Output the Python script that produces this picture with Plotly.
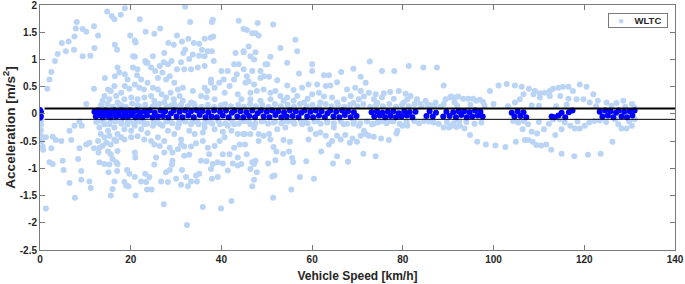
import plotly.graph_objects as go

# ---------------- data (speed km/h, acceleration m/s^2) ----------------
# light-blue WLTC points, grouped by region of the chart
wltc_upper_low_speed = [
    (1.6,0.46),(2.1,0.63),(2.5,0.77),(3.3,0.97),(3.9,1.10),(4.8,1.30),(5.7,1.15),(6.3,1.33),(7.5,1.18),(7.6,1.42),
    (7.9,1.57),(8.1,1.69),(9.4,1.56),(10.2,1.51),(9.4,1.06),(11.1,1.07),(11.9,1.61),(12.0,1.21),(12.8,1.44),(14.8,1.88),
    (15.8,1.80),(16.4,1.74),(17.8,1.82),(18.7,1.94),(16.5,1.27),(17.0,1.18),(19.9,1.44),(20.9,1.35),(21.1,1.31),(22.0,1.74),
    (23.3,1.51),(25.2,1.47),(26.5,1.57),(32.0,1.97),(33.1,1.69),(38.1,1.73),(37.9,1.69),(43.8,1.71),(44.9,1.56),(30.2,1.44),
    (28.3,1.30),(29.5,1.27),(31.3,1.33),(32.7,1.38),(33.9,1.30),(35.1,1.29),(36.3,1.38),(37.6,1.40),(38.2,1.42),(32.0,1.18),
    (31.6,1.12),(33.7,1.09),(35.7,1.18),(37.0,1.15),(37.9,1.15),(35.1,1.07),(36.3,1.06),(32.9,1.01),(44.9,1.15),(43.1,1.12),
    (43.8,0.91),(42.8,0.91),(43.4,0.73),(27.4,1.12),(24.9,1.06),(23.4,0.94),(20.5,1.06),(20.9,1.05),(27.3,0.95),(28.2,0.91),
    (29.0,0.97),(31.1,0.95),(30.2,0.82),(31.8,0.82),(33.3,0.82),(34.8,0.85),(36.3,0.88),(38.3,0.97),(40.0,0.79),(41.4,0.79),
    (40.5,0.63),(37.7,0.63),(39.5,0.57),(38.5,0.48),(36.9,0.42),(36.7,0.30),(38.5,0.27),(40.7,0.39),(41.8,0.51),(42.8,0.63),
    (43.6,0.36),(44.4,0.27),(14.3,0.66),(11.9,0.46),(10.2,0.18),
]
wltc_upper_cluster = [
    (17.1,0.85),(17.5,0.76),(16.5,0.69),(18.7,0.73),(19.3,0.63),(20.5,0.85),(21.5,0.82),(21.4,0.71),(22.3,0.63),(23.2,0.97),
    (23.7,0.94),(24.5,0.85),(25.4,0.79),(26.0,0.66),(26.4,0.88),(27.0,0.76),(27.8,0.63),(28.6,0.69),(29.6,0.57),(16.4,0.51),
    (15.6,0.42),(15.0,0.45),(14.2,0.33),(13.8,0.24),(15.3,0.27),(16.8,0.33),(17.9,0.39),(18.7,0.51),(19.7,0.46),(20.9,0.54),
    (21.9,0.48),(22.9,0.45),(23.7,0.57),(24.9,0.48),(26.0,0.45),(26.8,0.36),(27.8,0.30),(28.8,0.39),(29.5,0.27),(30.4,0.45),
    (31.5,0.48),(33.7,0.42),(30.8,0.33),(17.1,0.21),(18.6,0.27),(20.1,0.30),(21.5,0.27),(23.0,0.30),(24.5,0.33),(25.2,0.24),
    (27.4,0.21),(29.6,0.18),(31.5,0.24),(33.3,0.21),(35.5,0.33),(36.3,0.48),(37.7,0.57),(13.4,0.16),(17.9,0.16),(21.5,0.16),
    (25.2,0.16),(29.0,0.16),(34.1,0.16),(39.9,0.16),
]
wltc_upper_mid_speed = [
    (45.6,1.54),(46.8,1.48),(47.5,1.48),(48.2,1.44),(48.0,1.67),(51.4,1.64),(46.0,1.24),(46.4,1.06),(47.2,1.00),(47.5,1.13),
    (44.9,1.13),(53.0,1.21),(56.3,1.36),(56.7,1.15),(54.5,0.94),(50.1,0.91),(50.8,1.05),(46.8,0.79),(48.6,0.79),(49.7,0.91),
    (57.1,0.74),(60.0,0.91),(60.0,0.79),(62.6,0.71),(63.7,0.71),(66.4,0.77),(69.1,0.83),(70.7,0.68),(72.7,0.96),(75.4,0.79),
    (78.1,0.79),(81.3,0.88),(84.5,0.85),(87.5,0.85),(89.0,0.52),(46.0,0.60),(47.2,0.54),(48.6,0.66),(49.3,0.69),(50.5,0.68),
    (52.3,0.62),(54.5,0.52),(55.9,0.44),(57.8,0.48),(59.2,0.54),(61.1,0.54),(63.0,0.51),(64.0,0.52),(65.5,0.58),(67.7,0.45),
    (69.5,0.48),(70.7,0.42),(71.8,0.57),(72.5,0.39),(74.0,0.36),(75.8,0.38),(77.2,0.40),(79.1,0.42),(80.6,0.37),(81.7,0.33),
    (83.1,0.27),(85.0,0.24),(87.2,0.21),(89.4,0.27),(90.6,0.32),(46.4,0.39),(47.8,0.42),(49.3,0.45),(50.8,0.39),(51.9,0.42),
    (53.0,0.33),(54.5,0.30),(56.7,0.33),(59.0,0.28),(60.0,0.36),(61.5,0.39),(62.6,0.32),(64.4,0.30),(67.0,0.27),(68.5,0.33),
    (70.3,0.27),(71.4,0.32),(73.6,0.27),(75.4,0.30),(78.0,0.28),(81.0,0.27),(46.4,0.27),(48.6,0.24),(50.8,0.27),(53.7,0.24),
    (55.9,0.24),(58.2,0.21),(61.8,0.21),(65.5,0.21),(69.1,0.20),(74.4,0.20),(80.2,0.21),(83.9,0.18),(86.1,0.16),(89.0,0.18),
    (45.3,0.57),(45.6,0.69),(44.9,0.82),
]
wltc_upper_high_speed = [
    (90.4,0.30),(91.4,0.30),(92.2,0.32),(93.3,0.28),(94.4,0.28),(95.5,0.28),(96.2,0.24),(97.0,0.26),(97.7,0.22),(99.2,0.42),
    (101.1,0.52),(102.9,0.55),(104.7,0.52),(106.2,0.50),(107.8,0.46),(109.1,0.42),(110.2,0.38),(111.3,0.39),(112.4,0.42),(113.1,0.46),
    (114.3,0.48),(115.3,0.50),(116.5,0.50),(117.5,0.42),(119.0,0.54),(120.5,0.50),(122.0,0.36),(106.6,0.36),(108.8,0.36),(110.2,0.30),
    (112.4,0.33),(114.7,0.33),(116.5,0.28),(118.3,0.27),(119.8,0.27),(121.2,0.21),(123.0,0.24),(124.9,0.21),(127.1,0.20),(128.6,0.24),
    (130.5,0.18),(104.7,0.21),(105.8,0.27),(91.4,0.21),(98.0,0.15),(100.0,0.18),(110.0,0.15),(126.0,0.15),(129.0,0.13),(131.0,0.12),
]
# light-blue fringe just above the upper band line
wltc_upper_fringe = [
    (13.6,0.14),(14.9,0.18),(16.1,0.13),(17.5,0.17),(18.9,0.13),(20.3,0.19),(21.8,0.14),(23.2,0.17),(24.8,0.13),(26.3,0.18),
    (27.9,0.14),(29.9,0.13),(31.1,0.17),(32.6,0.14),(33.9,0.19),(35.6,0.13),(37.0,0.17),(38.4,0.13),(40.8,0.18),(42.1,0.14),
    (43.7,0.17),(45.0,0.13),(46.3,0.18),(47.6,0.14),(49.0,0.17),(50.4,0.13),(51.8,0.18),(53.1,0.14),(54.6,0.17),(56.0,0.13),
    (57.3,0.18),(58.8,0.14),(60.1,0.17),(61.6,0.13),(63.0,0.18),(64.3,0.14),(65.7,0.17),(67.1,0.13),(68.4,0.17),(70.0,0.14),
    (71.3,0.18),(72.8,0.13),(74.1,0.17),(75.6,0.14),(77.0,0.18),(78.5,0.13),(79.8,0.17),(81.3,0.14),(82.6,0.18),(84.1,0.13),
    (85.4,0.17),(86.9,0.14),(88.3,0.13),(92.0,0.15),(94.9,0.17),(103.2,0.14),(108.4,0.16),(113.8,0.14),(116.1,0.17),(122.6,0.14),
]
wltc_lower_low_speed = [
    (0.2,-0.12),(0.2,-0.20),(0.2,-0.30),(0.2,-0.40),(0.4,-0.50),(0.6,-0.60),(0.7,-0.66),
    (1.3,-0.43),(2.8,-0.42),(3.5,-0.48),(4.7,-0.50),(2.5,-0.63),(2.1,-0.89),(2.8,-0.92),(5.0,-0.86),(5.2,-1.03),(6.5,-1.27),
    (1.3,-1.74),(6.9,-0.48),(6.5,-0.31),(7.6,-0.22),(8.7,-0.14),(9.2,-0.22),(8.7,-0.63),(8.4,-0.83),(9.1,-1.05),(9.1,-1.21),
    (7.7,-1.54),(10.9,-1.24),(11.2,-1.36),(10.2,-0.56),(10.9,-0.53),(11.9,-0.63),(12.9,-0.71),(13.1,-0.89),(14.2,-0.92),(15.1,-1.07),
    (15.6,-1.50),(16.0,-1.38),(16.4,-1.24),(17.0,-1.05),(15.3,-0.93),(16.0,-0.83),(16.8,-0.89),(17.1,-0.92),(15.0,-0.69),(15.6,-0.74),
    (17.1,-0.68),(18.6,-1.25),(19.0,-1.32),(19.5,-1.33),(19.2,-1.03),(19.7,-1.10),(20.9,-1.16),(21.1,-1.50),(21.0,-0.80),(20.9,-0.71),
    (22.3,-1.24),(23.2,-1.10),(23.4,-1.25),(23.6,-1.39),(24.6,-1.39),(24.1,-1.16),(25.2,-0.93),(25.6,-0.80),(26.7,-1.24),(27.3,-1.66),
    (27.8,-1.07),(28.2,-1.25),(28.6,-1.03),(29.1,-0.93),(29.2,-0.86),(30.0,-1.19),(31.1,-1.30),(31.3,-1.03),(32.2,-1.16),(32.6,-1.33),
    (33.3,-1.24),(32.4,-2.04),(31.8,-0.77),(32.9,-0.75),(34.4,-1.13),(35.1,-1.10),(34.6,-1.24),(35.9,-1.71),(37.9,-1.19),(39.2,-1.16),
    (39.9,-1.74),(42.2,-1.60),(37.7,-1.01),(38.1,-0.92),(39.2,-0.89),(40.3,-0.91),(41.4,-1.04),(42.5,-0.91),(43.6,-0.95),(44.4,-0.92),
    (43.6,-0.80),(41.8,-0.74),(40.3,-0.74),(42.8,-0.62),(44.0,-0.56),(44.8,-0.37),(43.6,-0.37),(42.2,-0.31),(40.3,-0.33),(41.4,-0.22),
    (42.8,-0.19),(39.7,-0.19),(37.7,-0.16),(36.3,-0.18),(34.8,-0.16),(33.3,-0.19),(31.8,-0.13),(30.4,-0.25),(35.9,-0.34),(35.9,-0.50),
    (37.0,-0.62),(37.3,-0.74),(38.5,-0.59),(35.5,-0.86),(36.7,-0.87),(33.3,-0.60),(34.4,-0.54),(31.8,-0.60),(31.1,-0.56),(30.4,-0.65),
    (29.2,-0.71),(28.6,-0.62),(27.4,-0.71),(26.4,-0.59),(25.2,-0.56),(24.5,-0.50),(23.0,-0.47),(21.5,-0.41),(20.1,-0.43),(18.6,-0.47),
    (17.9,-0.43),(16.8,-0.50),(15.6,-0.56),(14.6,-0.53),(13.8,-0.59),(13.1,-0.62),
]
wltc_lower_cluster = [
    (12.8,-0.13),(13.1,-0.25),(13.4,-0.37),(14.2,-0.19),(15.0,-0.31),(15.6,-0.13),(16.4,-0.25),(17.1,-0.37),(17.9,-0.16),(18.6,-0.28),
    (19.3,-0.19),(20.1,-0.31),(20.9,-0.22),(21.5,-0.13),(22.3,-0.28),(23.0,-0.19),(23.7,-0.35),(24.9,-0.22),(26.0,-0.16),(27.0,-0.22),
    (28.2,-0.31),(29.6,-0.37),(30.7,-0.13),(12.8,-0.50),(14.2,-0.43),(15.3,-0.40),(16.4,-0.47),(13.8,-0.10),(16.8,-0.10),(19.7,-0.10),
    (22.7,-0.10),(25.6,-0.10),(28.6,-0.13),(34.1,-0.10),(36.7,-0.10),(39.2,-0.10),(42.2,-0.10),(44.4,-0.13),(36.3,-0.25),(38.5,-0.28),
    (40.7,-0.43),(39.6,-0.50),(32.9,-0.31),(34.1,-0.37),(31.1,-0.47),(27.4,-0.50),(26.0,-0.43),
]
wltc_lower_mid_speed = [
    (45.2,-0.13),(46.4,-0.19),(47.2,-0.25),(45.2,-0.37),(46.4,-0.37),(48.2,-0.37),(49.3,-0.40),(50.5,-0.37),(48.2,-0.50),(50.8,-0.47),
    (45.2,-0.56),(45.6,-0.74),(46.8,-0.89),(47.5,-0.86),(46.4,-1.01),(47.2,-0.92),(47.8,-1.07),(47.2,-1.21),(46.8,-1.33),(51.2,-1.15),
    (51.7,-1.13),(51.4,-1.54),(50.3,-0.91),(51.9,-0.85),(51.5,-0.61),(52.1,-0.69),(53.6,-0.73),(54.9,-0.69),(55.6,-0.81),(55.8,-0.89),
    (57.3,-1.16),(55.4,-1.39),(58.7,-0.87),(60.4,-1.19),(62.0,-0.69),(64.6,-0.91),(65.5,-0.78),(67.9,-0.88),(71.3,-0.73),(74.0,-0.78),
    (53.7,-0.48),(55.1,-0.51),(52.3,-0.28),(54.1,-0.25),(55.9,-0.16),(57.8,-0.19),(59.6,-0.28),(59.2,-0.47),(60.8,-0.37),(61.8,-0.34),
    (63.0,-0.40),(63.7,-0.56),(64.4,-0.50),(65.5,-0.40),(66.3,-0.47),(67.3,-0.39),(68.3,-0.53),(68.9,-0.45),(69.9,-0.51),(70.7,-0.40),
    (71.8,-0.37),(72.5,-0.40),(73.6,-0.42),(75.2,-0.45),(76.9,-0.48),(78.6,-0.36),(78.8,-0.31),(79.9,-0.22),(81.0,-0.22),(64.8,-0.25),
    (67.0,-0.19),(69.1,-0.18),(70.3,-0.22),(71.4,-0.31),(73.2,-0.19),(74.4,-0.16),(75.8,-0.13),(77.2,-0.13),(82.5,-0.13),(84.7,-0.13),
    (86.8,-0.16),(89.0,-0.25),(90.2,-0.25),(49.3,-0.13),(51.5,-0.16),(53.7,-0.13),(58.2,-0.13),(61.1,-0.13),(63.3,-0.16),
]
wltc_lower_high_speed = [
    (90.7,-0.22),(91.8,-0.24),(92.6,-0.22),(93.6,-0.27),(92.4,-0.13),(94.8,-0.39),(96.4,-0.51),(98.3,-0.56),(100.4,-0.58),(102.6,-0.61),
    (104.9,-0.51),(106.9,-0.48),(107.6,-0.48),(108.6,-0.51),(109.4,-0.57),(110.5,-0.58),(111.6,-0.56),(112.7,-0.66),(115.0,-0.73),(117.8,-0.78),
    (120.8,-0.75),(123.6,-0.73),(126.2,-0.51),(104.3,-0.13),(105.4,-0.16),(106.6,-0.13),(107.6,-0.19),(106.4,-0.28),(108.4,-0.33),(109.6,-0.36),
    (111.1,-0.28),(112.2,-0.18),(113.6,-0.39),(115.0,-0.28),(113.1,-0.10),(114.6,-0.10),(115.7,-0.16),(116.9,-0.22),(117.9,-0.27),(119.0,-0.27),
    (120.1,-0.22),(121.1,-0.16),(122.2,-0.13),(123.4,-0.12),(126.8,-0.10),(127.5,-0.19),(128.2,-0.27),(129.3,-0.27),(130.5,-0.22),(131.1,-0.10),
]
# light-blue fringe just below the lower band line
wltc_lower_fringe = [
    (12.4,-0.15),(14.0,-0.14),(15.3,-0.19),(16.6,-0.14),(18.0,-0.18),(19.4,-0.14),(20.7,-0.17),(22.1,-0.14),(23.6,-0.18),(25.0,-0.14),
    (26.5,-0.19),(27.8,-0.14),(29.2,-0.17),(30.6,-0.19),(32.1,-0.14),(33.6,-0.15),(35.0,-0.19),(36.5,-0.14),(38.0,-0.18),(39.4,-0.14),
    (40.9,-0.17),(42.4,-0.14),(43.8,-0.18),(46.0,-0.14),(47.5,-0.17),(48.9,-0.14),(50.3,-0.18),(51.8,-0.14),(53.2,-0.17),(54.7,-0.14),
    (56.1,-0.18),(57.6,-0.14),(59.0,-0.17),(60.5,-0.14),(61.9,-0.18),(63.4,-0.14),(64.8,-0.17),(66.3,-0.14),(67.7,-0.18),(69.2,-0.14),
    (70.6,-0.17),(72.1,-0.14),(73.5,-0.18),(75.0,-0.14),(76.4,-0.17),(77.9,-0.14),(79.3,-0.18),(80.8,-0.14),(83.6,-0.17),(85.8,-0.14),
    (87.9,-0.18),(89.7,-0.15),(91.2,-0.17),(94.0,-0.15),(95.8,-0.18),(97.3,-0.16),(110.0,-0.15),(118.5,-0.14),(124.8,-0.15),(129.9,-0.14),
]

# dark-blue points inside the +-0.1 m/s^2 band
band_idle_low = [
    (0,0.07),(0,0.02),(0,-0.03),(0,-0.07),(0.2,0.04),(0.2,-0.05),
    (12.0,0.04),(12.3,-0.05),(12.7,0.06),(13.0,-0.02),(13.4,0.05),(13.8,-0.06),(14.1,0.02),(14.5,0.06),(14.9,-0.04),(15.3,0.05),
    (15.6,-0.06),(16.0,0.01),(16.4,0.06),(16.8,-0.05),(17.2,0.04),(17.5,-0.03),(17.9,0.06),(18.3,-0.06),(18.7,0.02),(19.1,0.05),
    (19.4,-0.05),(19.8,0.06),(20.2,-0.02),(20.6,0.04),(21.0,-0.06),(21.3,0.06),(21.7,-0.04),(22.1,0.03),
]
band_medium = [
    (22.6,-0.06),(23.1,0.05),(23.6,-0.03),(24.2,0.06),(24.8,-0.06),(25.3,0.02),(26.0,-0.05),(26.6,0.06),(27.1,-0.04),(27.6,0.05),
    (28.3,-0.06),(28.9,0.01),(29.5,0.06),(30.1,-0.05),(30.8,0.04),(31.4,-0.06),(32.0,0.06),(32.7,-0.03),(33.3,0.05),(33.9,-0.06),
    (34.6,0.06),(35.2,-0.02),(35.8,0.05),(36.5,-0.06),(37.1,0.03),(37.8,-0.05),(38.4,0.06),(39.0,-0.06),(39.7,0.04),(40.3,-0.03),
    (41.0,0.06),(41.6,-0.06),(42.3,0.02),(42.9,0.06),(43.5,-0.05),(44.2,0.05),(44.8,-0.06),(45.5,0.03),(46.1,-0.04),(46.8,0.06),
    (47.4,-0.06),(48.0,0.01),(48.7,0.06),(49.3,-0.05),(50.0,0.04),(50.6,-0.06),(51.2,0.06),(51.9,-0.02),(52.5,0.05),(53.2,-0.06),
    (53.8,0.03),(54.4,-0.05),(55.1,0.06),(55.7,-0.04),(56.4,0.05),(57.0,-0.06),(57.6,0.02),(58.3,0.06),(58.9,-0.05),(59.6,0.04),
    (60.2,-0.06),(60.8,0.06),(61.5,-0.03),(62.1,0.05),(62.8,-0.06),(63.4,0.01),(64.0,0.06),(64.7,-0.05),(65.3,0.04),(66.0,-0.06),
    (66.6,0.06),(67.2,-0.02),(67.9,0.05),(68.5,-0.06),(69.2,0.03),(69.8,-0.04),
]
band_high = [
    (73.1,0.03),(73.7,-0.05),(74.3,0.05),(74.9,-0.03),(75.5,0.02),(76.1,-0.06),(76.7,0.04),(77.3,-0.04),(77.9,0.05),(78.5,-0.06),
    (79.1,0.01),(79.7,-0.05),(80.3,0.05),(80.9,-0.03),(81.5,0.03),(82.1,-0.06),(82.8,0.04),(85.2,-0.04),(85.9,0.05),(86.6,-0.05),
    (87.3,0.02),(88.9,-0.05),(89.6,0.04),(90.3,-0.04),(91.1,0.03),(91.7,-0.06),(92.3,0.05),(92.9,-0.02),(93.5,0.05),(94.1,-0.06),
    (94.7,0.03),(95.3,-0.05),(95.9,0.06),(96.5,-0.03),(97.1,0.04),(97.6,-0.05),
]
band_extra_high = [
    (104.0,0.02),(104.6,-0.05),(105.3,0.05),(105.9,-0.04),(106.6,0.03),(107.2,-0.06),(112.8,-0.05),(113.5,-0.06),(114.3,-0.03),
    (115.0,0.02),(115.8,-0.06),(116.6,0.03),(117.4,0.06),(123.4,0.04),(124.0,-0.05),(124.6,0.06),(125.2,-0.03),(125.8,0.05),
    (126.4,-0.06),(127.0,0.02),(127.6,0.06),(128.2,-0.05),(128.8,0.04),(129.4,-0.06),(130.0,0.05),(130.6,-0.03),(131.1,0.06),
]

band_upper = 0.1
band_lower = -0.1
band_line_start = 1.0
band_line_end = 140

x_ticks = [0, 20, 40, 60, 80, 100, 120, 140]
y_ticks = [-2.5, -2, -1.5, -1, -0.5, 0, 0.5, 1, 1.5, 2]
y_tick_labels = ["-2.5", "-2", "-1.5", "-1", "-0.5", "0", "0.5", "1", "1.5", "2"]
legend_label = "WLTC"

# ---------------- build figure ----------------
light = (wltc_upper_low_speed + wltc_upper_cluster + wltc_upper_mid_speed + wltc_upper_high_speed + wltc_upper_fringe
         + wltc_lower_low_speed + wltc_lower_cluster + wltc_lower_mid_speed + wltc_lower_high_speed + wltc_lower_fringe)
dark = band_idle_low + band_medium + band_high + band_extra_high

lx, ly = zip(*light)
dx, dy = zip(*dark)

LIGHT = "rgb(186,212,245)"
DARK = "rgb(0,0,255)"
FONT = "Liberation Sans, Arial, sans-serif"
TEXT = "#262626"
AXIS = "#7a7a7a"

fig = go.Figure()
fig.add_trace(go.Scatter(x=lx, y=ly, mode="markers", name=legend_label, showlegend=False,
                         marker=dict(color=LIGHT, size=6, line=dict(width=0))))
fig.add_trace(go.Scatter(x=dx, y=dy, mode="markers", name="band", showlegend=False,
                         marker=dict(color=DARK, size=6, line=dict(width=0))))

fig.add_shape(type="line", x0=band_line_start, x1=band_line_end, y0=band_upper, y1=band_upper,
              line=dict(color="black", width=2))
fig.add_shape(type="line", x0=band_line_start, x1=band_line_end, y0=band_lower, y1=band_lower,
              line=dict(color="black", width=1))

axis_common = dict(showgrid=False, zeroline=False, showline=True, linecolor=AXIS, linewidth=1,
                   mirror="ticks", ticks="inside", ticklen=5, tickcolor=AXIS,
                   ticklabeloverflow="allow", automargin=False,
                   tickfont=dict(family=FONT, size=10, color=TEXT, weight="bold"))

fig.update_xaxes(range=[0, 140], tickvals=x_ticks, **axis_common,
                 title=dict(text="Vehicle Speed [km/h]", standoff=7,
                            font=dict(family=FONT, size=12, color=TEXT, weight="bold")))
fig.update_yaxes(range=[-2.5, 2], tickvals=y_ticks, ticktext=y_tick_labels, **axis_common,
                 title=dict(text="Acceleration [m/s<sup>2</sup>]", standoff=2,
                            font=dict(family=FONT, size=13.5, color=TEXT, weight="bold")))

# compact legend box (as in the reference)
fig.add_annotation(
    xref="paper", yref="paper", x=0.9415, y=0.937, xanchor="center", yanchor="middle",
    text=("&nbsp;&nbsp;&nbsp;<span style='color:%s;font-size:10px'>●</span>"
          "&nbsp;&nbsp;&nbsp;&nbsp;<b>%s</b>" % (LIGHT, legend_label)),
    align="left", width=56, height=11, showarrow=False,
    font=dict(family=FONT, size=9.5, color=TEXT),
    bgcolor="white", bordercolor=AXIS, borderwidth=1, borderpad=1,
)

fig.update_layout(
    width=685, height=284,
    margin=dict(l=40, r=10, t=5, b=34),
    paper_bgcolor="white", plot_bgcolor="white",
    showlegend=False,
)

fig.write_html("out.html", config={"displayModeBar": False},
               post_script="document.body.style.margin='0';document.body.style.overflow='hidden';")
